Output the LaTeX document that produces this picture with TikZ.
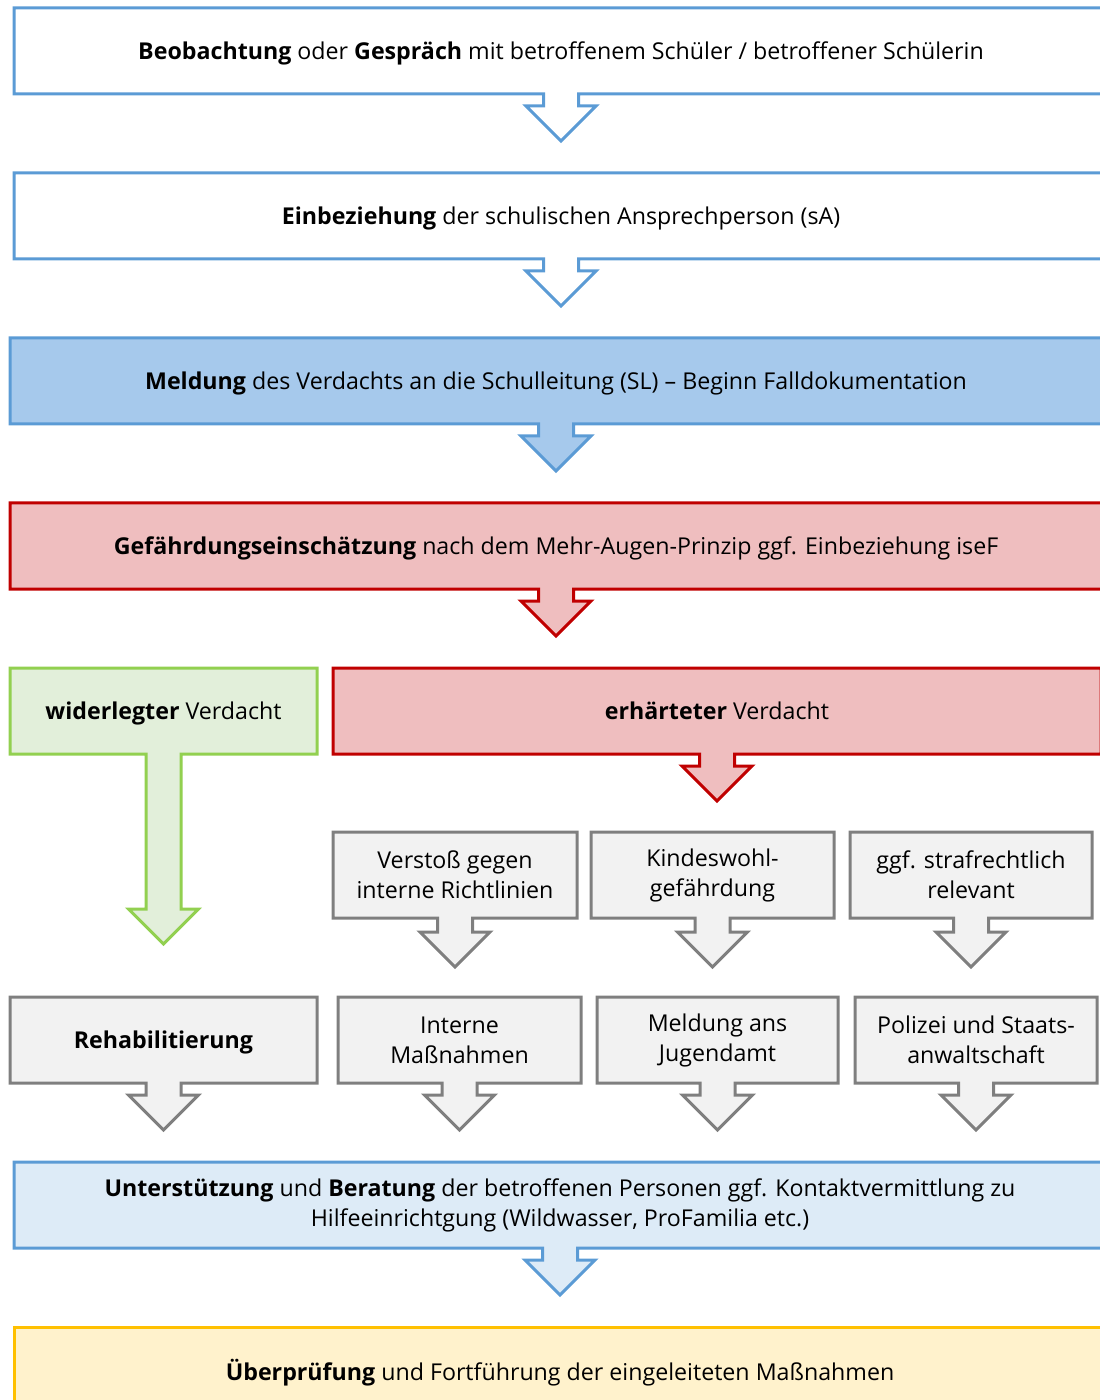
\documentclass[tikz,border=0pt]{standalone}
\usepackage{fontspec}
\setmainfont{Open Sans}
\usetikzlibrary{calc, backgrounds}
\definecolor{blueline}{HTML}{5B9BD5}
\definecolor{bluefill}{HTML}{A6C9EC}
\definecolor{lightblue}{HTML}{DDEBF7}
\definecolor{redline}{HTML}{C00000}
\definecolor{redfill}{HTML}{EFBEBF}
\definecolor{greenline}{HTML}{92D050}
\definecolor{greenfill}{HTML}{E2EFDA}
\definecolor{greyline}{HTML}{7F7F7F}
\definecolor{greyfill}{HTML}{F2F2F2}
\definecolor{yellowline}{HTML}{FFC000}
\definecolor{yellowfill}{HTML}{FFF2CC}
\def\arrowbox#1#2#3{%
	\begin{scope}[on background layer]
		\filldraw[#1] (#2.north west) -- (#2.north east) -- (#2.south east)
			-- ($(#2.south)+(17.5,0)$) -- ++(0,#3) -- ++(17.5,0) -- ++(-35,35)
			-- ++(-35,-35) -- ++(17.5,0) -- ++(0,-#3) -- (#2.south west) -- cycle;
	\end{scope}}

\begin{document}
\begin{tikzpicture}[x=0.5pt, y=-0.5pt,
		box/.style={anchor=north west, inner sep=2pt, outer sep=0pt, align=center,
			minimum height=43pt, font=\fontsize{11.6}{15}\selectfont},
		oneline/.style={box, text depth=0pt},
		outline/.style={line width=1.5pt, line join=miter},
		whitebox/.style={outline, draw=blueline, fill=white},
		bluebox/.style={outline, draw=blueline, fill=bluefill},
		lightbox/.style={outline, draw=blueline, fill=lightblue},
		redbox/.style={outline, draw=redline, fill=redfill},
		greenbox/.style={outline, draw=greenline, fill=greenfill},
		greybox/.style={outline, draw=greyline, fill=greyfill},
		yellowbox/.style={outline, draw=yellowline, fill=yellowfill}]
		\useasboundingbox (0,0) rectangle (1099,1400);

		% Ablauf von oben nach unten
		\node[oneline, minimum width=547pt] (beob) at (14,8) {\textbf{Beobachtung} oder \textbf{Gespräch} mit betroffenem Schüler / betroffener Schülerin};
		\arrowbox{whitebox}{beob}{12}
		\node[oneline, minimum width=547pt] (einb) at (14,173) {\textbf{Einbeziehung} der schulischen Ansprechperson (sA)};
		\arrowbox{whitebox}{einb}{12}
		\node[oneline, minimum width=546pt] (meld) at (10,338) {\textbf{Meldung} des Verdachts an die Schulleitung (SL) – Beginn Falldokumentation};
		\arrowbox{bluebox}{meld}{12}
		\node[oneline, minimum width=546pt] (gefahr) at (10,503) {\textbf{Gefährdungseinschätzung} nach dem Mehr-Augen-Prinzip ggf. Einbeziehung iseF};
		\arrowbox{redbox}{gefahr}{12}

		% Verzweigung
		\node[oneline, minimum width=153.5pt] (widerlegt) at (10,668) {\textbf{widerlegter} Verdacht};
		\arrowbox{greenbox}{widerlegt}{155}
		\node[oneline, minimum width=384pt] (erhaertet) at (333,668) {\textbf{erhärteter} Verdacht};
		\arrowbox{redbox}{erhaertet}{12}

		\node[box, minimum width=122pt] (verstoss) at (333,832) {Verstoß gegen\\interne Richtlinien};
		\arrowbox{greybox}{verstoss}{14}
		\node[box, minimum width=121.5pt] (kindeswohl) at (591,832) {Kindeswohl-\\gefährdung};
		\arrowbox{greybox}{kindeswohl}{14}
		\node[box, minimum width=121pt] (straf) at (850,832) {ggf. strafrechtlich\\relevant};
		\arrowbox{greybox}{straf}{14}

		% Massnahmen
		\node[oneline, minimum width=153.5pt] (reha) at (10,997) {\textbf{Rehabilitierung}};
		\arrowbox{greybox}{reha}{12}
		\node[box, minimum width=121.5pt] (intern) at (338,997) {Interne\\Maßnahmen};
		\arrowbox{greybox}{intern}{12}
		\node[box, minimum width=120.5pt] (jugendamt) at (597,997) {Meldung ans\\Jugendamt};
		\arrowbox{greybox}{jugendamt}{12}
		\node[box, minimum width=121pt] (polizei) at (855,997) {Polizei und Staats-\\anwaltschaft};
		\arrowbox{greybox}{polizei}{12}

		\node[box, minimum width=546pt] (unterst) at (14,1162) {\textbf{Unterstützung} und \textbf{Beratung} der betroffenen Personen ggf. Kontaktvermittlung zu\\Hilfeeinrichtgung (Wildwasser, ProFamilia etc.)};
		\arrowbox{lightbox}{unterst}{12}
		\node[oneline, minimum width=546pt] (ueberpr) at (14,1327) {\textbf{Überprüfung} und Fortführung der eingeleiteten Maßnahmen};
		\begin{scope}[on background layer]
			\filldraw[yellowbox] (ueberpr.north west) rectangle (ueberpr.south east);
		\end{scope}
	\end{tikzpicture}
\end{document}
